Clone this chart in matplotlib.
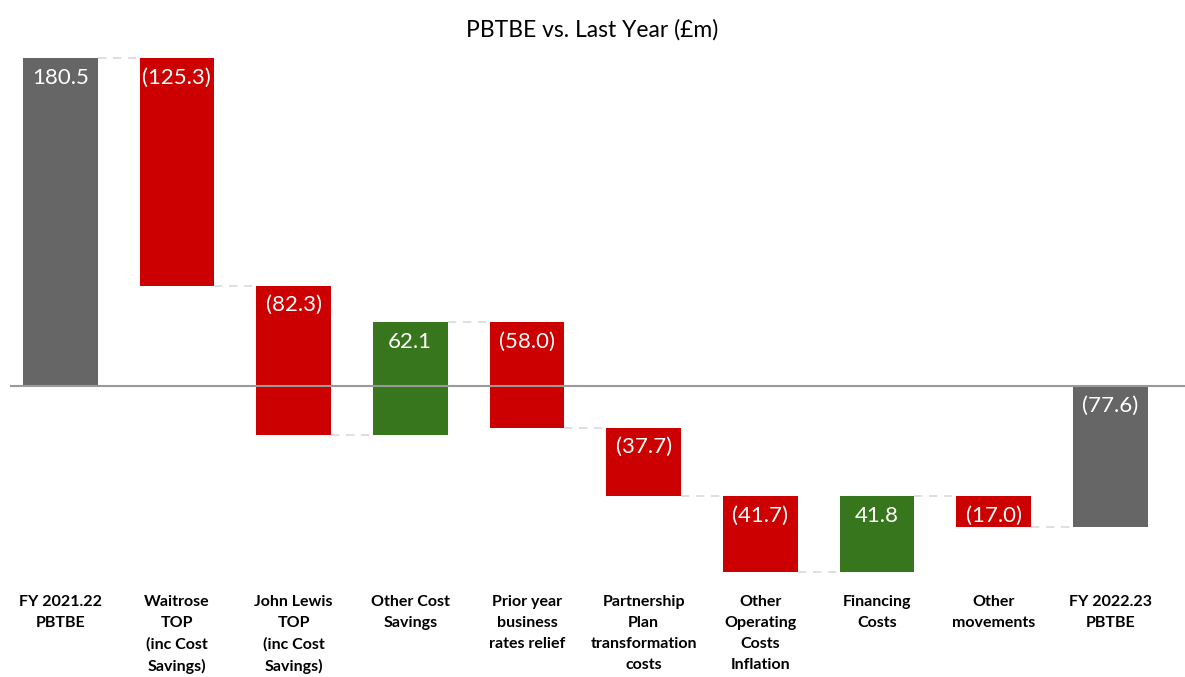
import numpy as np
import matplotlib
matplotlib.use('Agg')
import matplotlib.pyplot as plt

plt.rcParams['font.family'] = ['Lato', 'DejaVu Sans']


# chart data
categories = ['FY 2021.22\nPBTBE', 'Waitrose\nTOP\n(inc Cost\nSavings)', 'John Lewis\nTOP\n(inc Cost\nSavings)',
              'Other Cost\nSavings', 'Prior year\nbusiness\nrates relief', 'Partnership\nPlan\ntransformation\ncosts',
              'Other\nOperating\nCosts\nInflation', 'Financing\nCosts', 'Other\nmovements', 'FY 2022.23\nPBTBE']
values = [180.5, -125.3, -82.3, 62.1, -58.0, -37.7, -41.7, 41.8, -17.0, -77.6]
labels = ['180.5', '(125.3)', '(82.3)', '62.1', '(58.0)', '(37.7)', '(41.7)', '41.8', '(17.0)', '(77.6)']
is_total = [True, False, False, False, False, False, False, False, False, True]

GREY = '#666666'
RED = '#cc0000'
GREEN = '#38761d'

# work out the floating bar bottoms
bottoms = []
tops = []
running = 0.0
for v, tot in zip(values, is_total):
    if tot:
        lo, hi = min(0, v), max(0, v)
        running = v
    else:
        start = running
        running = running + v
        lo, hi = min(start, running), max(start, running)
    bottoms.append(lo)
    tops.append(hi)

colors = []
for v, tot in zip(values, is_total):
    if tot:
        colors.append(GREY)
    elif v < 0:
        colors.append(RED)
    else:
        colors.append(GREEN)

fig = plt.figure(figsize=(11.85, 6.77), dpi=100)
ax = fig.add_axes([10 / 1185, 1 - 580 / 677, 1175 / 1185, 530 / 677])

x = np.arange(len(values))
width = 0.64
heights = np.array(tops) - np.array(bottoms)
ax.bar(x, heights, width, bottom=bottoms, color=colors, zorder=2)

# connectors between bars (level of running total)
levels = []
running = 0.0
for v, tot in zip(values, is_total):
    running = v if tot else running + v
    levels.append(running)
for i in range(len(values) - 1):
    ax.plot([x[i] + width / 2, x[i + 1] - width / 2], [levels[i], levels[i]],
            color='#d9d9d9', lw=1.2, ls=(0, (5, 4)), zorder=1)

ax.axhline(0, color='#999999', lw=1.5, zorder=3)

# value labels near top of each bar
for xi, t, lab in zip(x, tops, labels):
    ax.annotate(lab, (xi, t), xytext=(0, -7), textcoords='offset points',
                ha='center', va='top', color='white', fontsize=16, zorder=4)

ax.set_xlim(-0.43, 9.64)
ax.set_ylim(-107, 185)
ax.set_yticks([])
ax.set_xticks(x)
ax.set_xticklabels(categories, fontsize=11.5, fontweight='bold', linespacing=1.62)
ax.tick_params(axis='x', length=0, pad=11)
for s in ax.spines.values():
    s.set_visible(False)

fig.text(0.5, 1 - 30 / 677, 'PBTBE vs. Last Year (£m)', ha='center', va='center', fontsize=16.5)

fig.savefig('out.png', dpi=100)
